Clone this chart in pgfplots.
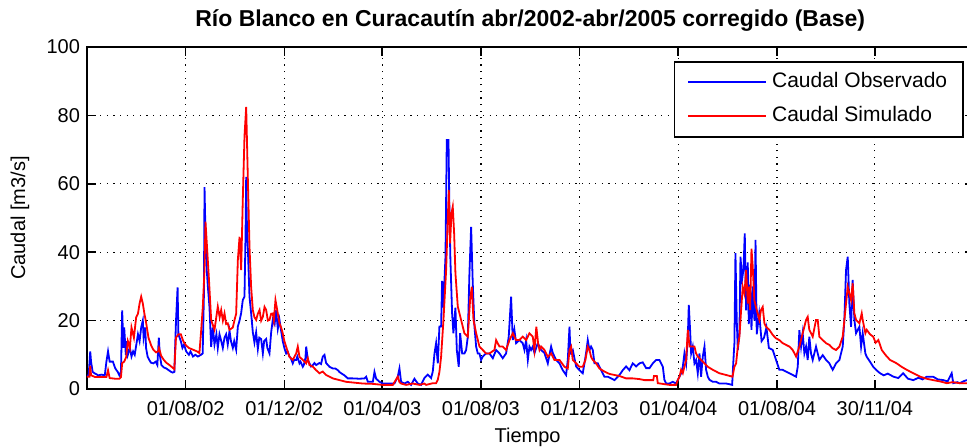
\documentclass[border=0pt]{standalone}
\usepackage{fontspec}
\setmainfont{Liberation Sans}
\usepackage{pgfplots}
\pgfplotsset{compat=1.18}
\begin{document}
\begin{tikzpicture}
\begin{axis}[
  scale only axis,
  width=443.25pt, height=171pt,
  xmin=0, xmax=1096, ymin=0, ymax=100,
  xtick={122,244,365,487,609,731,853,974},
  xticklabels={01/08/02,01/12/02,01/04/03,01/08/03,01/12/03,01/04/04,01/08/04,30/11/04},
  ytick={0,20,40,60,80,100},
  /pgf/number format/assume math mode=true,
  tick label style={font=\fontsize{10}{12}\selectfont},
  xticklabel style={anchor=center, yshift=-9.5pt},
  label style={font=\fontsize{10}{12}\selectfont},
  xlabel={Tiempo}, ylabel={Caudal [m3/s]},
  xlabel style={at={(axis description cs:0.497,-0.1404)}, anchor=center},
  ylabel style={at={(axis description cs:-0.0756,0.5)}, anchor=center},
  grid=major,
  major grid style={black, line width=0.6pt, dash pattern=on 0.6pt off 2.7pt},
  axis line style={line width=0.8pt},
  major tick length=4.5pt,
  tick style={black, line width=0.8pt},
  legend cell align=left,
  legend image code/.code={\draw[#1] (0pt,0pt) -- (39pt,0pt);},
  legend style={at={(rel axis cs:1,1)}, anchor=north east, xshift=-4.75pt, yshift=-7pt,
    draw=black, line width=0.8pt, inner xsep=6.5pt, inner ysep=4pt, row sep=4.5pt, column sep=1pt,
    font=\fontsize{10.5}{12}\selectfont,
    nodes={inner sep=1.5pt, text height=7.5pt, text depth=2pt}},
]
\addplot[blue, line width=0.9pt] coordinates {
(0,4)(2,3.8)(4,11)(5,8)(7,5)(10,4.5)(14,4)(18,4.2)(22,4)(24,8)(26,11)(28,8)(32,8)(35,6)(38,5)(40,4)(42,5)(43.5,23)(45,12)(46,18)(48,10)(49,14)(50.5,10)(53,12)(55,9.5)(57,11)(59,10)(61,13)(63,16)(65,14)(67,18)(69,20)(70,15)(72,18)(73,12)(75,9.4)(77,8.5)(79,7.7)(82,7.5)(85,8)(87,7)(88.8,15)(90,10)(92,7)(95,6.3)(98,6)(101,5.5)(104,5)(106,4.8)(108,5)(110,19.7)(112,29.7)(113,16)(116,14)(118,12)(120,13)(122.6,11)(126,10)(128,11)(131,9.5)(134,10)(137,9.5)(141,10)(143,10.4)(144.5,27)(145.3,59)(146.5,45)(147.3,40.6)(148,35)(149.4,30)(151.4,24)(153.5,12.3)(155.6,18)(157.6,13)(160,16)(161.7,12)(163.8,16)(166,14)(167.9,12)(170,15)(172,16)(174,13)(176.2,17)(178,14)(180.3,12)(182,14)(184.4,11.5)(186.5,18.3)(188.6,20)(190.6,22.2)(192.6,26)(194.7,27)(196,45)(196.8,62)(197.5,50)(198.8,41.6)(200.9,27)(202.9,22.2)(205,16.6)(207,13.6)(209.1,16.6)(211.2,11.7)(213,15)(215.3,14.6)(217.4,10.4)(219,14)(221.5,14.6)(223,12)(225.6,10.4)(227.7,16.6)(229.7,20.3)(232,19)(233.8,23)(235.9,17.6)(237.9,20.3)(240,17)(242,14)(244,12)(246.2,10.4)(248,11)(250.3,9.5)(252,9)(254.4,7.5)(256,8.5)(258.6,8.5)(260,9.5)(262.7,7.5)(264,8)(266.8,6.5)(268,7)(270,9)(271,12.4)(273,8.5)(277,6.6)(279.2,7)(281.2,7.6)(283.3,7)(285.3,7.3)(287.4,7.6)(289.4,7.3)(291.5,9.5)(293.6,10)(295.6,7.6)(299.8,6.5)(303.9,6)(307,6)(310.1,5.5)(312,5)(314.2,4.6)(318.3,4)(322.4,3.1)(328.6,3.1)(336.9,3)(343,3.1)(345.1,3.6)(347.2,2.1)(353.4,2.1)(355.4,5)(357.5,3)(361.6,2.1)(365.7,1.6)(374,1.6)(380.1,1.6)(384.2,3.6)(386.3,6)(388.3,2.1)(392.5,1.6)(396.6,2.1)(400.7,1.2)(404.8,3)(408.9,1.6)(413,1.2)(417.1,3.2)(421.3,4.2)(425.4,3.2)(427.5,5.1)(429.6,10.4)(431.6,13.4)(433.7,7.5)(435.7,18.3)(437.8,18.3)(439,31.6)(440.7,23.8)(441.9,31.6)(443.2,38.7)(444.8,72.8)(446.9,72.8)(448.1,51.4)(449.3,37.7)(451.4,22)(453,16.3)(455.5,23.8)(457.2,11.4)(459.6,6.5)(461.3,16.3)(463.8,10.4)(466.6,10.4)(468.7,11.4)(470.8,15.3)(472.8,33.8)(474.9,47.4)(476.9,31)(479,18.3)(481.1,12.4)(483.1,10.4)(485.2,10.4)(487.2,8.5)(489.3,9.5)(493.4,10.4)(497.5,10.4)(501.7,9)(505.8,11.4)(509.9,10.4)(514,9)(518.1,10.4)(521.4,15.3)(524.3,27)(526.4,14.3)(528.4,17.3)(530.5,13.4)(534.6,14.3)(538.7,13.4)(540.8,11.4)(542.9,14.3)(545,8.5)(547,12.4)(549,11.4)(551.1,12.4)(553.2,10.5)(557.3,13.4)(559.4,12.4)(561.4,11.4)(565.6,10.5)(569.7,7.5)(573.8,12.4)(575.9,10.5)(580,8.5)(584.1,7.5)(588.2,5.5)(592.3,4.1)(594.4,8.5)(596.5,18.2)(597.7,10.5)(600.6,11.4)(604.7,6.6)(608.8,5.5)(612.9,4.6)(615,7.5)(617,10.5)(619.1,14.3)(621.2,11.4)(623.2,12.4)(625.3,11.4)(627.4,7.5)(631.5,7.5)(635.6,5.5)(639.7,3.6)(643.9,3.6)(648,3.1)(652.1,2.6)(658.3,4.1)(662.4,5.5)(666.5,6.6)(670.6,5.5)(674.7,7.5)(678.9,6.6)(683,7.5)(687,7.8)(691.3,6.1)(695.4,6.1)(699.5,7.5)(703.6,8.5)(707.7,8.5)(711.9,6.5)(713.9,2.6)(716,1.6)(720.1,1.6)(724.2,2.1)(728.3,1.6)(730.4,2.6)(732.5,3.6)(734.5,4.6)(736.6,6.5)(738.6,10.4)(740.7,7.5)(742.8,15.3)(744,24.6)(745.6,17.3)(746.9,10.4)(748.9,12.4)(751,7.5)(753,8.5)(755.1,4.6)(757.2,10.4)(759.2,3.6)(761.3,9.5)(763.4,12.4)(765.4,5.6)(767.5,3.6)(769.5,2.7)(773.7,2.1)(777.8,2.1)(781.9,1.6)(786,1.6)(790.1,1.6)(794.3,1.4)(797.6,1.2)(799.2,8.5)(800.4,13.4)(801.7,39.7)(803.3,20)(804.6,11.4)(806.6,16.3)(807.9,38.7)(809.9,32)(811.6,35)(813.2,45.5)(814.9,23)(816.9,37)(818.2,19)(819.8,30.5)(821.5,17.3)(823.1,30)(825.2,20)(826.5,43.6)(828,16)(831,22)(834,14)(837,15)(840,18)(843,12)(847.8,11.4)(851.9,8.5)(856,5.6)(860.1,5.6)(864.2,5.1)(868.4,4.6)(872.5,4.1)(876.6,3.6)(878.7,6.5)(880.7,17.2)(882.8,12.4)(884.8,16.3)(886.9,10.4)(889,12.4)(891,8.5)(893,15.3)(895.1,10.4)(897.2,8.5)(901.3,12.4)(905.4,8.5)(909.6,9.9)(913.7,8.5)(917.8,7.5)(921.9,5.6)(926,7.5)(930.2,8.5)(934.3,12.4)(936.3,20.2)(938.4,34.8)(940.5,38.7)(942.5,25)(944.6,18.2)(946.6,31.9)(948.7,20.2)(950.8,16.3)(954.9,18.2)(957,12.4)(959,16.3)(962.3,10.4)(964,9.4)(968,8)(972,6.5)(976,5.5)(980.5,4.6)(985,4)(990,4.5)(997,3.6)(1003,3.2)(1009,4.6)(1015,3)(1021.6,2.6)(1028,3.3)(1033,2.8)(1038,3.6)(1046,3.6)(1052,2.8)(1058.7,2.6)(1064,2.2)(1069,4.6)(1071,1.7)(1076,2)(1079,1.7)(1084,2.3)(1088,2.6)(1094,2.2)
};
\addlegendentry{Caudal Observado}
\addplot[red, line width=0.9pt] coordinates {
(0,3.6)(3,3.6)(4,6.8)(5,4)(10,3.5)(20,3.5)(24,3.5)(26,5.5)(28,3.2)(35,3)(40,3)(42,3.5)(43.5,7.6)(46,8)(48.5,9.4)(50.5,14)(53,12)(55,18)(58,15)(60.8,21)(63,22)(65,25)(67,27)(69,25)(71,22)(73,19.5)(76,15)(79.4,12.7)(82,11.5)(85.5,10.7)(88,11)(89,12)(91.7,9.7)(95,8.5)(97.9,7.7)(102,7)(106,6.2)(108,5.8)(110,15)(113,16)(116,16)(119,14)(122.6,12.7)(126,12)(131,11.5)(136,11)(139,10.5)(141.2,17.3)(143.2,24.1)(145.3,35)(146.5,48.9)(147.5,45)(148.6,40.6)(150.6,32.8)(153.5,20.2)(157.6,17.3)(161.7,24.1)(164,21)(165.9,23.1)(168,20)(170,22.1)(172,19)(174,19.2)(176.2,17.3)(180.3,18)(182.4,20.2)(184.4,22)(186.5,37.7)(188.6,44.5)(190.6,34.8)(192.6,55.3)(194.7,73.8)(196.8,82.5)(198.8,62.1)(200.9,41.6)(202.9,29.9)(205,23.1)(207,21)(209.1,20.2)(211.2,22)(213.3,23.1)(215.3,20)(217.4,21.1)(219.5,24)(221.5,23.1)(223.6,20)(225.6,20.2)(227.7,22)(229.7,22.1)(231,20)(233,26)(235.9,22.1)(237.9,19.2)(240,18)(242,16.3)(244,14)(246.2,12.4)(248,11)(250.3,9.4)(254.4,8.5)(258.6,10.4)(260.6,12.4)(262.7,9.4)(266.8,8.5)(270.9,7.5)(273,9)(275,7)(279.2,6.5)(283.3,5.5)(287.4,4.6)(291.5,5.1)(295.6,4.1)(303.9,3.1)(312.1,2.6)(320.4,2.1)(328.6,1.9)(341,1.6)(353.4,1.5)(365.7,1.2)(378.1,1.2)(384.2,3.6)(386.3,2)(388.3,1.6)(394.5,1.2)(402.7,1.6)(411,1.2)(417.1,1.6)(419.3,1.2)(427.5,1.7)(431.6,1.7)(433.7,2.7)(435.7,5)(437.8,9.5)(440.7,20.2)(444,34.8)(446,49.4)(447.3,58.2)(448.9,42.6)(450.6,51.4)(452.2,53.3)(453.9,45.5)(455.5,33.8)(458.4,24.1)(462.5,20.2)(466.6,16.3)(470.8,15.3)(473.6,26)(475.7,29.9)(477.8,20.2)(481.1,16.3)(485.2,12.4)(489.3,11.4)(493.4,10.4)(497.5,10.4)(503.7,11.4)(505.8,14.3)(509.9,12.4)(514,12.4)(518.1,11.4)(522.3,14.3)(526.4,16.3)(530.5,14.3)(534.6,14.3)(538.7,15.3)(542.9,14.3)(547,16.3)(551.1,15.3)(553.2,11.4)(555.5,18.2)(557.7,13.4)(559.4,11.4)(561.4,12.4)(565.6,11.4)(569.7,9.4)(573.8,10.4)(577.9,8.5)(584.1,8.5)(590.3,6.5)(594.4,6)(596.5,11.4)(598.5,12.4)(600.6,8.5)(604.7,7.5)(608.8,6.5)(612.9,6.5)(616.2,8.5)(619.1,12.4)(621.2,11.4)(623.2,9.4)(625.3,8.5)(629.4,7.5)(633.5,6)(639.7,5.1)(645.9,4.4)(652.1,4.1)(658.3,3.8)(666.5,3.1)(674.7,3.1)(683,2.9)(689.2,2.6)(695.4,2.6)(700,2.6)(701,3.8)(704.5,3.8)(705.7,1.7)(720.1,1.2)(728.3,1.2)(730.4,2.6)(732.5,3.6)(734.5,5.6)(736.6,4.6)(738.6,6.5)(740.7,8.5)(742.8,17.3)(744.9,12.4)(746.9,12.4)(751,12.4)(753,10.4)(755.1,9.5)(759.2,8.5)(763.4,7.5)(767.5,6.5)(773.7,5.6)(781.9,4.6)(790.1,4.1)(798,3.6)(800.4,6.5)(802.5,7.5)(804.6,12.4)(806.6,15.3)(808.7,23.1)(810.7,29.9)(812.8,27.9)(814.9,34.8)(816.9,25)(818.2,29.9)(819.8,23.1)(821.5,41)(823,36)(825,26)(827,24)(831.3,20.2)(833.3,23.1)(835.4,24)(837.5,19.2)(839.5,18.2)(843.6,17.3)(847.8,15.8)(851.9,14.8)(856,14.3)(860.1,13.4)(864.2,12.9)(868.4,12.4)(872.5,11.4)(876.6,9.5)(880.7,12.4)(884.8,16.3)(889,20.2)(891,21.1)(893,17.3)(897.2,15.3)(901.3,20.2)(903.4,20.2)(905.4,15.3)(909.6,14.3)(913.7,13.4)(917.8,12.9)(921.9,11.9)(926,11.4)(930.2,12.4)(934.3,15.3)(938.4,25)(940.5,29.9)(944.6,26)(946.6,30.9)(948.7,22.1)(950.8,20.2)(954.9,19.2)(957.8,22.1)(959,20.2)(962.3,16.3)(964,17.3)(968,16)(972,15.3)(975,13.5)(978.4,14.3)(982.6,11.4)(987,10)(992.8,8.5)(1001,7.5)(1007,6.5)(1013.5,5.6)(1020,4.8)(1030,3.6)(1038,3)(1046,2.6)(1055,2.2)(1063,1.7)(1070,2)(1079,1.7)(1088,1.7)(1094,1.7)
};
\addlegendentry{Caudal Simulado}
\end{axis}
\node[anchor=center, yshift=13pt, font=\fontsize{11.5}{14}\selectfont\bfseries, inner sep=0pt] at (current axis.north) {Río Blanco en Curacautín abr/2002-abr/2005 corregido (Base)};
\pgfresetboundingbox
\path[use as bounding box] (current axis.south west) ++(-43.5pt,-29.5pt) rectangle ++(483.5pt,224pt);
\end{tikzpicture}
\end{document}
